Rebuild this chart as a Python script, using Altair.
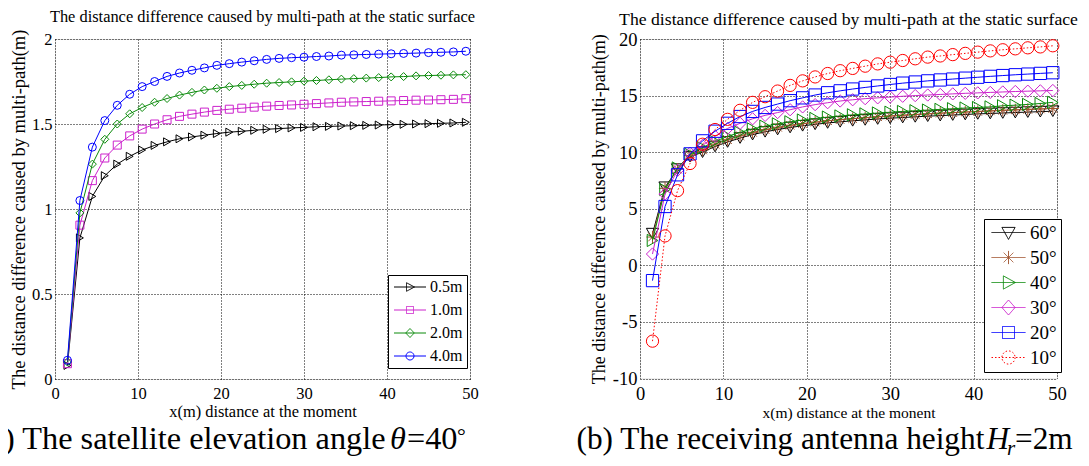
import altair as alt
import pandas as pd

FONT = "Liberation Serif"

# shared x positions (m)
x_vals = [1.5, 3, 4.5, 6, 7.5, 9, 10.5, 12, 13.5, 15, 16.5, 18, 19.5, 21, 22.5, 24,
          25.5, 27, 28.5, 30, 31.5, 33, 34.5, 36, 37.5, 39, 40.5, 42, 43.5, 45, 46.5, 48, 49.5]

# ---------- panel (a): satellite elevation angle 40 deg ----------
a_labels = ["0.5m", "1.0m", "2.0m", "4.0m"]
a_colors = ["#000000", "#cc22cc", "#0a8a0a", "#0000ff"]
a_shapes = ["triangle-right", "square", "diamond", "circle"]
a_h05 = [0.08, 0.83, 1.074, 1.196, 1.264, 1.31, 1.347, 1.374, 1.395, 1.413, 1.424, 1.434, 1.444,
         1.452, 1.457, 1.463, 1.469, 1.473, 1.477, 1.48, 1.484, 1.486, 1.488, 1.49, 1.492, 1.494,
         1.496, 1.498, 1.5, 1.502, 1.504, 1.506, 1.51]
a_h10 = [0.09, 0.905, 1.167, 1.30, 1.376, 1.43, 1.47, 1.50, 1.525, 1.545, 1.558, 1.57, 1.58,
         1.587, 1.593, 1.599, 1.605, 1.609, 1.612, 1.616, 1.62, 1.624, 1.628, 1.63, 1.632, 1.634,
         1.636, 1.638, 1.64, 1.641, 1.643, 1.645, 1.649]
a_h20 = [0.10, 0.977, 1.264, 1.41, 1.50, 1.56, 1.597, 1.628, 1.65, 1.67, 1.686, 1.70, 1.71,
         1.72, 1.727, 1.734, 1.74, 1.744, 1.748, 1.752, 1.756, 1.76, 1.764, 1.767, 1.77, 1.773,
         1.777, 1.779, 1.783, 1.785, 1.787, 1.789, 1.79]
a_h40 = [0.11, 1.05, 1.364, 1.52, 1.61, 1.675, 1.72, 1.75, 1.78, 1.80, 1.816, 1.83, 1.845,
         1.855, 1.864, 1.872, 1.88, 1.886, 1.89, 1.893, 1.897, 1.90, 1.905, 1.907, 1.909, 1.911,
         1.913, 1.915, 1.917, 1.92, 1.922, 1.924, 1.928]
a_series = [a_h05, a_h10, a_h20, a_h40]
a_x_ticks = [0, 10, 20, 30, 40, 50]
a_y_ticks = [0, 0.5, 1, 1.5, 2]

# ---------- panel (b): receiving antenna height 2 m ----------
b_labels = ["60°", "50°", "40°", "30°", "20°", "10°"]
b_colors = ["#000000", "#a0522d", "#0a8a0a", "#cc22cc", "#0000ff", "#ff0000"]
b_e60 = [2.8, 6.9, 8.5, 9.6, 10.0, 10.5, 10.9, 11.25, 11.55, 11.8, 12.0, 12.18, 12.33, 12.46,
         12.58, 12.68, 12.77, 12.85, 12.93, 13.0, 13.06, 13.12, 13.18, 13.23, 13.28, 13.33,
         13.38, 13.42, 13.46, 13.5, 13.54, 13.58, 13.62]
b_e50 = [2.5, 6.8, 8.5, 9.7, 10.2, 10.7, 11.1, 11.45, 11.75, 12.0, 12.2, 12.38, 12.53, 12.66,
         12.78, 12.88, 12.97, 13.05, 13.13, 13.2, 13.27, 13.33, 13.39, 13.45, 13.5, 13.55, 13.6,
         13.65, 13.7, 13.74, 13.78, 13.82, 13.86]
b_e40 = [2.2, 6.7, 8.6, 9.8, 10.4, 10.95, 11.4, 11.75, 12.05, 12.3, 12.5, 12.68, 12.84, 12.98,
         13.1, 13.2, 13.3, 13.38, 13.46, 13.53, 13.6, 13.66, 13.72, 13.78, 13.84, 13.9, 13.95,
         14.0, 14.1, 14.15, 14.22, 14.3, 14.4]
b_e30 = [1.0, 6.3, 8.4, 9.9, 10.6, 11.4, 12.1, 12.55, 12.95, 13.25, 13.5, 13.75, 14.0, 14.2,
         14.37, 14.52, 14.63, 14.73, 14.8, 14.87, 14.94, 15.0, 15.05, 15.1, 15.15, 15.2, 15.24,
         15.28, 15.32, 15.36, 15.39, 15.42, 15.45]
b_e20 = [-1.35, 5.2, 8.0, 9.85, 11.0, 11.85, 12.55, 13.15, 13.6, 13.95, 14.25, 14.55, 14.8,
         15.05, 15.25, 15.42, 15.58, 15.72, 15.85, 15.98, 16.1, 16.2, 16.3, 16.38, 16.46, 16.54,
         16.62, 16.7, 16.77, 16.84, 16.9, 16.96, 17.02]
b_e10 = [-6.7, 2.6, 6.6, 9.0, 10.7, 12.0, 12.9, 13.7, 14.4, 14.9, 15.4, 15.9, 16.3, 16.65,
         16.95, 17.2, 17.4, 17.6, 17.8, 17.95, 18.1, 18.25, 18.4, 18.5, 18.62, 18.73, 18.84,
         18.95, 19.05, 19.13, 19.22, 19.3, 19.4]
b_series = [b_e60, b_e50, b_e40, b_e30, b_e20, b_e10]
b_x_ticks = [0, 10, 20, 30, 40, 50]
b_y_ticks = [-10, -5, 0, 5, 10, 15, 20]

TITLE = "The distance difference caused by multi-path at the static surface"
Y_TITLE = "The distance difference caused by multi-path(m)"

STAR = "M-1,0H1M0,-1V1M-0.7,-0.7L0.7,0.7M-0.7,0.7L0.7,-0.7"
b_shapes = ["triangle-down", STAR, "triangle-right", "diamond", "square", "circle"]

# legend glyphs: line segment with the marker on top
a_leg_paths = [
    "M-3.2,0H3.2M-0.7,-0.85L0.9,0L-0.7,0.85Z",
    "M-3.2,0H3.2M-0.7,-0.7H0.7V0.7H-0.7Z",
    "M-3.2,0H3.2M-0.85,0L0,-0.9L0.85,0L0,0.9Z",
    "M-3.2,0H3.2M0.8,0A0.8,0.8,0,1,1,-0.8,0A0.8,0.8,0,1,1,0.8,0Z",
]
b_leg_paths = [
    "M-2.83,0H2.83M-1.1,-0.85H1.1L0,1.15Z",
    "M-2.83,0H2.83M0,-1.1V1.1M-0.8,-0.8L0.8,0.8M-0.8,0.8L0.8,-0.8",
    "M-2.83,0H2.83M-0.85,-1.1L1.15,0L-0.85,1.1Z",
    "M-2.83,0H2.83M-1.1,0L0,-1.25L1.1,0L0,1.25Z",
    "M-2.83,0H2.83M-1,-1H1V1H-1Z",
    "M-2.83,0H2.83M1.1,0A1.1,1.1,0,1,1,-1.1,0A1.1,1.1,0,1,1,1.1,0Z",
]

LABEL_EXPR = "'' + datum.value"


def make_axes(xticks, yticks, xdom, ydom, xtitle, lab_fs, xt_fs, yt_fs, ytp):
    grid = dict(grid=True, gridDash=[1, 2], gridColor="#000", gridOpacity=1, gridWidth=1,
                ticks=False, domain=False, labelFont=FONT, labelColor="#000",
                labelFontSize=lab_fs, titleFont=FONT, titleColor="#000",
                titleFontWeight="normal", labelFlush=False, labelOverlap=False,
                labelExpr=LABEL_EXPR)
    X = alt.X("x:Q", scale=alt.Scale(domain=xdom, nice=False, zero=False),
              axis=alt.Axis(values=xticks, title=xtitle, labelPadding=6, titleFontSize=xt_fs,
                            titlePadding=2, **grid))
    Y = alt.Y("y:Q", scale=alt.Scale(domain=ydom, nice=False, zero=False),
              axis=alt.Axis(values=yticks, title=Y_TITLE, labelPadding=3, titleFontSize=yt_fs,
                            titlePadding=ytp, **grid))
    return X, Y


def panel(series, labels, colors, shapes, paths, dashes, msize, X, Y, leg, w, h,
          title_fs, title_off, captions):
    layers = []
    for ys, col, shp, dsh in zip(series, colors, shapes, dashes):
        df = pd.DataFrame({"x": x_vals, "y": ys})
        base = alt.Chart(df)
        lk = dict(color=col, strokeWidth=1)
        if dsh != [1, 0]:
            lk["strokeDash"] = dsh
        layers.append(base.mark_line(**lk).encode(x=X, y=Y))
        layers.append(base.mark_point(shape=shp, color=col, filled=False, size=msize,
                                      strokeWidth=1, opacity=1).encode(x=X, y=Y))
    legend = alt.Legend(**leg)
    leg_df = pd.DataFrame({"label": labels})
    layers.append(
        alt.Chart(leg_df).transform_filter("false").mark_point(filled=False, strokeWidth=1, opacity=1)
        .encode(
            color=alt.Color("label:N", scale=alt.Scale(domain=labels, range=colors), legend=legend),
            shape=alt.Shape("label:N", scale=alt.Scale(domain=labels, range=paths), legend=legend),
            strokeDash=alt.StrokeDash("label:N", scale=alt.Scale(domain=labels, range=dashes),
                                      legend=legend),
        )
    )
    for txt, px, py, fs, style in captions:
        cdf = pd.DataFrame({"t": [txt]})
        layers.append(
            alt.Chart(cdf).mark_text(align="left", baseline="alphabetic", font=FONT, fontSize=fs,
                                     fontStyle=style, color="#000")
            .encode(text="t:N", x=alt.value(px), y=alt.value(py))
        )
    return alt.layer(*layers).properties(
        width=w, height=h,
        title=alt.Title(TITLE, font=FONT, fontSize=title_fs, fontWeight="normal", color="#000",
                        anchor="middle", frame="group", offset=title_off),
    )


Xa, Ya = make_axes(a_x_ticks, a_y_ticks, [0, 50], [0, 2], "x(m) distance at the moment",
                   16.5, 16.4, 18.5, 3)
Xb, Yb = make_axes(b_x_ticks, b_y_ticks, [0, 50], [-10, 20], "x(m) distance at the monent",
                   18.5, 15.5, 18, 4)

leg_common = dict(orient="none", direction="vertical", title=None, strokeColor="#000",
                  fillColor="#fff", padding=4, labelFont=FONT, labelColor="#000",
                  symbolStrokeWidth=1, labelLimit=0)
leg_a = dict(leg_common, legendX=333, legendY=236, labelFontSize=16, symbolSize=100,
             symbolOffset=10, labelOffset=12, rowPadding=7)
leg_b = dict(leg_common, legendX=344, legendY=180, labelFontSize=19, symbolSize=144,
             symbolOffset=11, labelOffset=12, rowPadding=5)

cap_a = [
    ("(a) The satellite elevation angle", -76, 409.5, 32.3, "normal"),
    ("θ", 335, 409.5, 32.3, "italic"),
    ("=40", 352, 409.5, 32.3, "normal"),
    ("°", 402, 403.5, 22, "normal"),
]
cap_b = [
    ("(b) The receiving antenna height", -63.5, 410, 31.3, "normal"),
    ("H", 346.5, 410, 31.3, "italic"),
    ("r", 367, 416, 21, "italic"),
    ("=2m", 375, 410, 31.3, "normal"),
]

left = panel(a_series, a_labels, a_colors, a_shapes, a_leg_paths, [[1, 0]] * 4, 64, Xa, Ya,
             leg_a, 415, 340, 16.4, 4, cap_a)
right = panel(b_series, b_labels, b_colors, b_shapes, b_leg_paths,
              [[1, 0]] * 5 + [[1.5, 2]], 150, Xb, Yb, leg_b, 417, 339.5, 17.7, 1, cap_b)

chart = (
    alt.hconcat(left, right, spacing=97)
    .resolve_scale(color="independent", shape="independent", strokeDash="independent")
    .resolve_legend(color="independent", shape="independent", strokeDash="independent")
    .properties(padding={"left": -30, "top": 0, "right": 0, "bottom": 0})
    .configure_view(stroke="#000", strokeWidth=1.5)
    .configure(background="white")
)

chart.save("out.html", embed_options={"renderer": "svg", "actions": False})
